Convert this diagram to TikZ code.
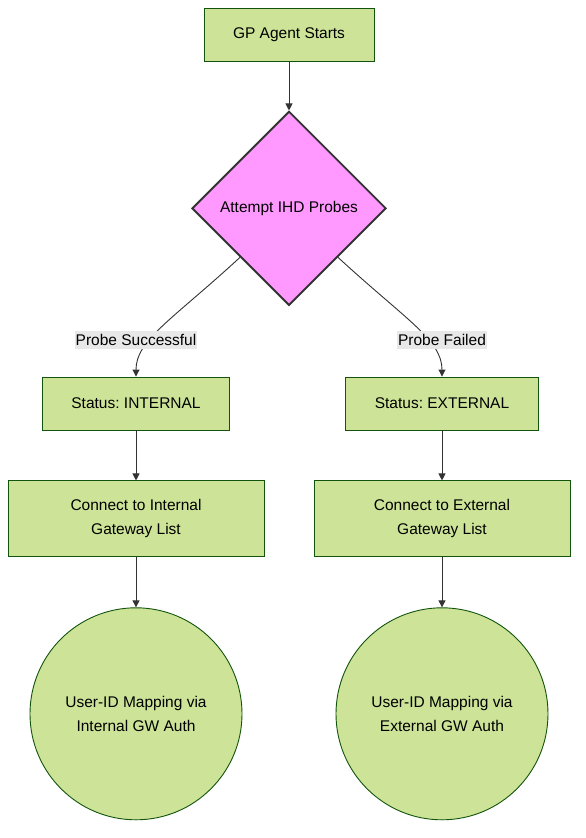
\documentclass[tikz,border=0pt]{standalone}
\usepackage{fontspec}
\setmainfont{Liberation Sans}
\usetikzlibrary{shapes.geometric, arrows.meta, positioning}
\frenchspacing

\definecolor{boxfill}{HTML}{CDE498}
\definecolor{boxline}{HTML}{13540C}
\definecolor{decfill}{HTML}{FF99FF}
\definecolor{edgecol}{HTML}{333333}
\definecolor{lblfill}{HTML}{E8E8E8}

\begin{document}
\begin{tikzpicture}[
    x=1pt, y=-1pt,
    >={Triangle[length=7pt,width=7pt]},
    node distance=50pt,
    lv/.style={font=\fontsize{15.5}{24}\selectfont, align=center, draw=boxline, fill=boxfill, line width=0.9pt},
    proc/.style={lv, rectangle, inner xsep=29pt, minimum height=53pt},
    wide/.style={lv, rectangle, minimum width=256pt, minimum height=76pt},
    term/.style={lv, circle, minimum size=212pt, inner sep=0pt},
    dec/.style={lv, diamond, draw=edgecol, fill=decfill, line width=1.8pt, minimum width=194pt, minimum height=194pt, inner sep=0pt},
    lbl/.style={font=\fontsize{15.5}{18}\selectfont, fill=lblfill, inner xsep=1pt, inner ysep=3pt},
    arrow/.style={->, edgecol, line width=0.9pt},
  ]
  \useasboundingbox (0,0) rectangle (586,838);
  \node[proc] (gp) at (289,34.5) {GP Agent Starts};
  \node[dec, below=49pt of gp] (ihd) {Attempt IHD Probes};
  \draw[arrow] (gp) -- (ihd);
  % internal branch
  \node[proc] (si) at (136,403.5) {Status: INTERNAL};
  \node[wide, below=of si] (ci) {Connect to Internal\\Gateway List};
  \node[term, below=of ci] (ui) {User-ID Mapping via\\Internal GW Auth};
  \draw[arrow] (ihd.south west) .. controls (172,320) and (136,340) .. (si.north);
  \node[lbl] (ls) at (136,340) {Probe Successful};
  \draw[arrow] (si) -- (ci);
  \draw[arrow] (ci) -- (ui);
  % external branch
  \node[proc] (se) at (442,403.5) {Status: EXTERNAL};
  \node[wide, below=of se] (ce) {Connect to External\\Gateway List};
  \node[term, below=of ce] (ue) {User-ID Mapping via\\External GW Auth};
  \draw[arrow] (ihd.south east) .. controls (406,320) and (442,340) .. (se.north);
  \node[lbl] (lf) at (442,340) {Probe Failed};
  \draw[arrow] (se) -- (ce);
  \draw[arrow] (ce) -- (ue);
\end{tikzpicture}
\end{document}
